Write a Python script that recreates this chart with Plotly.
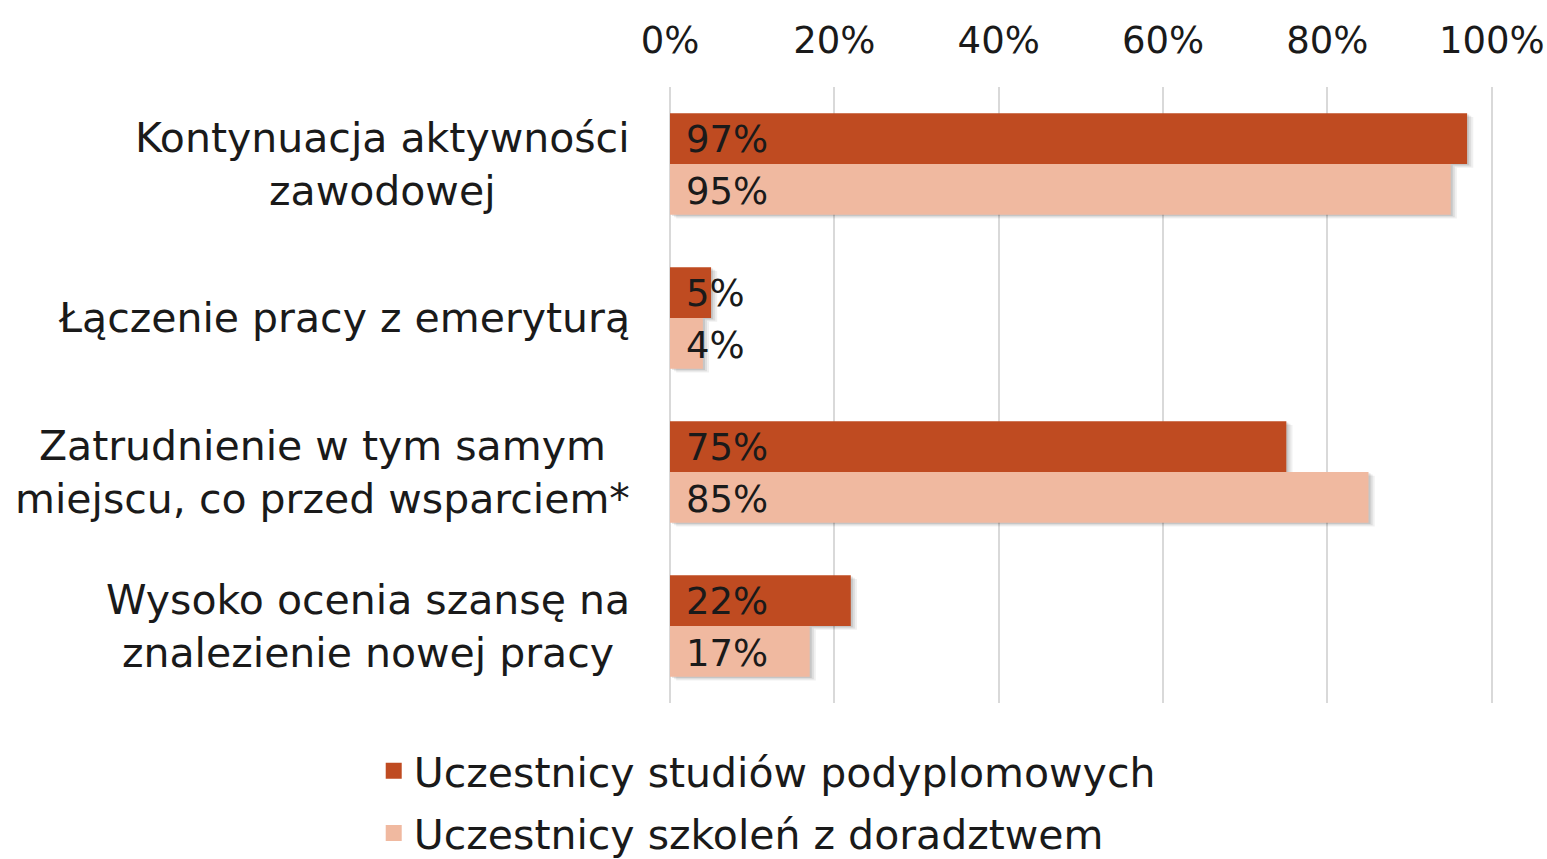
import plotly.graph_objects as go

categories = [
    "Kontynuacja aktywności<br>zawodowej",
    "Łączenie pracy z emeryturą",
    "Zatrudnienie w tym samym<br>miejscu, co przed wsparciem*",
    "Wysoko ocenia szansę na<br>znalezienie nowej pracy",
]
series_names = ["Uczestnicy studiów podyplomowych", "Uczestnicy szkoleń z doradztwem"]
studia = [97, 5, 75, 22]
szkolenia = [95, 4, 85, 17]
x_ticks = [0, 20, 40, 60, 80, 100]
x_tick_labels = ["0%", "20%", "40%", "60%", "80%", "100%"]

FONT = "DejaVu Sans"
TEXT_SIZE = 41
NUM_SIZE = 37
DARK = "#BF4B21"
LIGHT = "#F0B9A0"
INK = "#1A1A1A"
BAR_W = 0.33

fig = go.Figure()

# soft drop shadows behind the bars
for vals, off in [(studia, -BAR_W), (szkolenia, 0.0)]:
    for k, alpha in [(1, 0.10), (2, 0.08), (3, 0.06)]:
        fig.add_trace(go.Bar(
            y=categories, x=vals, base=[0.25 * k] * len(vals), orientation="h",
            offset=off + 0.008 * k, width=BAR_W,
            marker=dict(color=f"rgba(0,0,0,{alpha})", line=dict(width=0)),
            showlegend=False, hoverinfo="skip",
        ))

for name, vals, color, off in [
    (series_names[0], studia, DARK, -BAR_W),
    (series_names[1], szkolenia, LIGHT, 0.0),
]:
    fig.add_trace(go.Bar(
        name=name, y=categories, x=vals, orientation="h",
        offset=off, width=BAR_W,
        marker=dict(color=color, line=dict(width=0)),
        showlegend=False,
    ))
    # legend entry with a larger square swatch
    fig.add_trace(go.Scatter(
        name=name, x=[None], y=[None], mode="markers",
        marker=dict(symbol="square", size=16, color=color),
        legendgroup=name, showlegend=True,
    ))

annotations = []
for vals, shift in [(studia, 25), (szkolenia, -27)]:
    for cat, v in zip(categories, vals):
        annotations.append(dict(
            x=0, y=cat, xref="x", yref="y", xanchor="left", yanchor="middle",
            xshift=14, yshift=shift, text=f"{v}%", showarrow=False,
            font=dict(family=FONT, size=NUM_SIZE, color=INK),
        ))
for cat in categories:
    annotations.append(dict(
        x=0, y=cat, xref="paper", yref="y", xanchor="right", yanchor="middle",
        xshift=-38, text=cat, showarrow=False, align="center",
        font=dict(family=FONT, size=TEXT_SIZE, color=INK),
    ))

fig.update_layout(
    width=1547, height=859,
    barmode="overlay",
    plot_bgcolor="white", paper_bgcolor="white",
    margin=dict(l=670, r=54, t=87, b=156, autoexpand=False),
    font=dict(family=FONT, size=TEXT_SIZE, color=INK),
    annotations=annotations,
    showlegend=True,
    legend=dict(
        orientation="v", x=-0.36, xanchor="left", y=-0.056, yanchor="top",
        font=dict(family=FONT, size=TEXT_SIZE, color=INK),
        traceorder="grouped", tracegroupgap=6, itemsizing="trace",
    ),
    xaxis=dict(
        side="top", range=[0, 100.15], tickvals=x_ticks, ticktext=x_tick_labels,
        showgrid=True, gridcolor="#D9D9D9", gridwidth=2,
        zeroline=True, zerolinecolor="#D9D9D9", zerolinewidth=2,
        showline=False, ticks="", automargin=False, ticklabelstandoff=26,
        tickfont=dict(family=FONT, size=NUM_SIZE, color=INK),
    ),
    yaxis=dict(
        autorange="reversed", showticklabels=False, showgrid=False,
        zeroline=False, showline=False, ticks="", automargin=False,
    ),
)

fig.write_html("out.html")
